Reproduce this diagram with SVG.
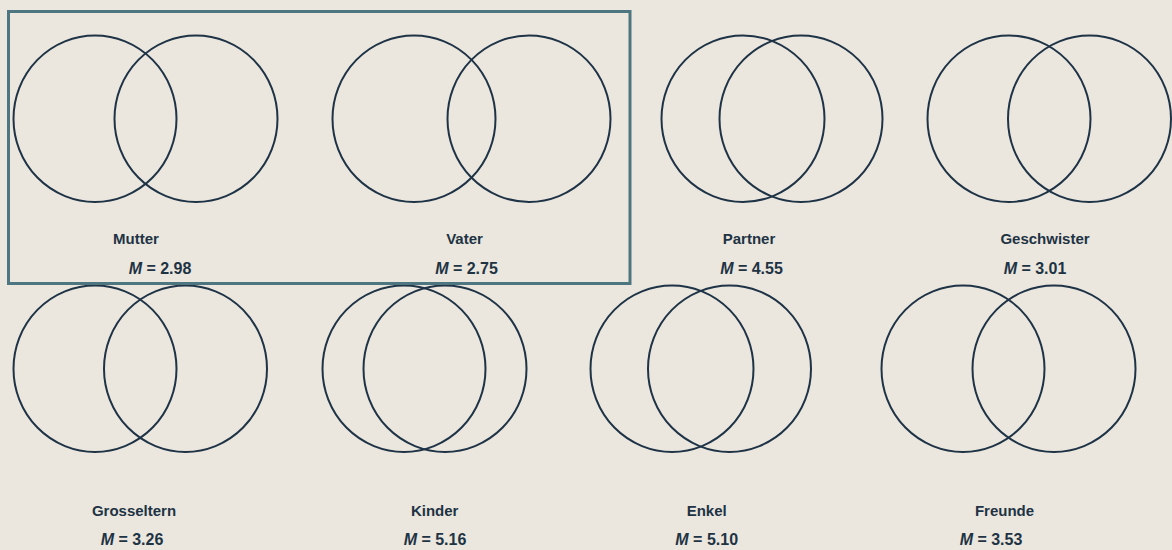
<svg xmlns="http://www.w3.org/2000/svg" width="1172" height="550" viewBox="0 0 1172 550">
<style>
.c{fill:none;stroke:#1f3347;stroke-width:2}
.t{font-family:"Liberation Sans",Arial,sans-serif;font-weight:bold;font-size:15px;fill:#1e3344;text-anchor:middle}
.v{font-size:16px}
.m{font-style:italic}
</style>
<rect width="1172" height="550" fill="#ebe7de"/>
<g id="mutter">
<ellipse class="c" cx="95" cy="118.7" rx="81.5" ry="83.2"/>
<ellipse class="c" cx="196" cy="118.7" rx="81.5" ry="83.2"/>
<text class="t" x="136" y="243.5">Mutter</text>
<text class="t v" x="160" y="273.8"><tspan class="m">M</tspan> = 2.98</text>
</g>
<g id="vater">
<ellipse class="c" cx="414" cy="118.7" rx="81.5" ry="83.2"/>
<ellipse class="c" cx="529" cy="118.7" rx="81.5" ry="83.2"/>
<text class="t" x="464.5" y="243.5">Vater</text>
<text class="t v" x="466.5" y="273.8"><tspan class="m">M</tspan> = 2.75</text>
</g>
<g id="partner">
<ellipse class="c" cx="743" cy="118.7" rx="81.5" ry="83.2"/>
<ellipse class="c" cx="801" cy="118.7" rx="81.5" ry="83.2"/>
<text class="t" x="749" y="243.5">Partner</text>
<text class="t v" x="751.5" y="273.8"><tspan class="m">M</tspan> = 4.55</text>
</g>
<g id="geschwister">
<ellipse class="c" cx="1009" cy="118.7" rx="81.5" ry="83.2"/>
<ellipse class="c" cx="1089.5" cy="118.7" rx="81.5" ry="83.2"/>
<text class="t" x="1045" y="243.5">Geschwister</text>
<text class="t v" x="1035" y="273.8"><tspan class="m">M</tspan> = 3.01</text>
</g>
<g id="grosseltern">
<ellipse class="c" cx="95" cy="368.7" rx="81.5" ry="83.2"/>
<ellipse class="c" cx="185.5" cy="368.7" rx="81.5" ry="83.2"/>
<text class="t" x="134" y="515.5">Grosseltern</text>
<text class="t v" x="132" y="544.8"><tspan class="m">M</tspan> = 3.26</text>
</g>
<g id="kinder">
<ellipse class="c" cx="404" cy="368.7" rx="81.5" ry="83.2"/>
<ellipse class="c" cx="445" cy="368.7" rx="81.5" ry="83.2"/>
<text class="t" x="434.7" y="515.5">Kinder</text>
<text class="t v" x="435" y="544.8"><tspan class="m">M</tspan> = 5.16</text>
</g>
<g id="enkel">
<ellipse class="c" cx="672" cy="368.7" rx="81.5" ry="83.2"/>
<ellipse class="c" cx="729.5" cy="368.7" rx="81.5" ry="83.2"/>
<text class="t" x="706.7" y="515.5">Enkel</text>
<text class="t v" x="706.7" y="544.8"><tspan class="m">M</tspan> = 5.10</text>
</g>
<g id="freunde">
<ellipse class="c" cx="963" cy="368.7" rx="81.5" ry="83.2"/>
<ellipse class="c" cx="1054" cy="368.7" rx="81.5" ry="83.2"/>
<text class="t" x="1004.5" y="515.5">Freunde</text>
<text class="t v" x="991" y="544.8"><tspan class="m">M</tspan> = 3.53</text>
</g>
<g id="highlight">
<rect x="8.5" y="11.5" width="621.5" height="272" fill="none" stroke="#4d7680" stroke-width="3"/>
</g>
<g id="connectors"/>
</svg>
